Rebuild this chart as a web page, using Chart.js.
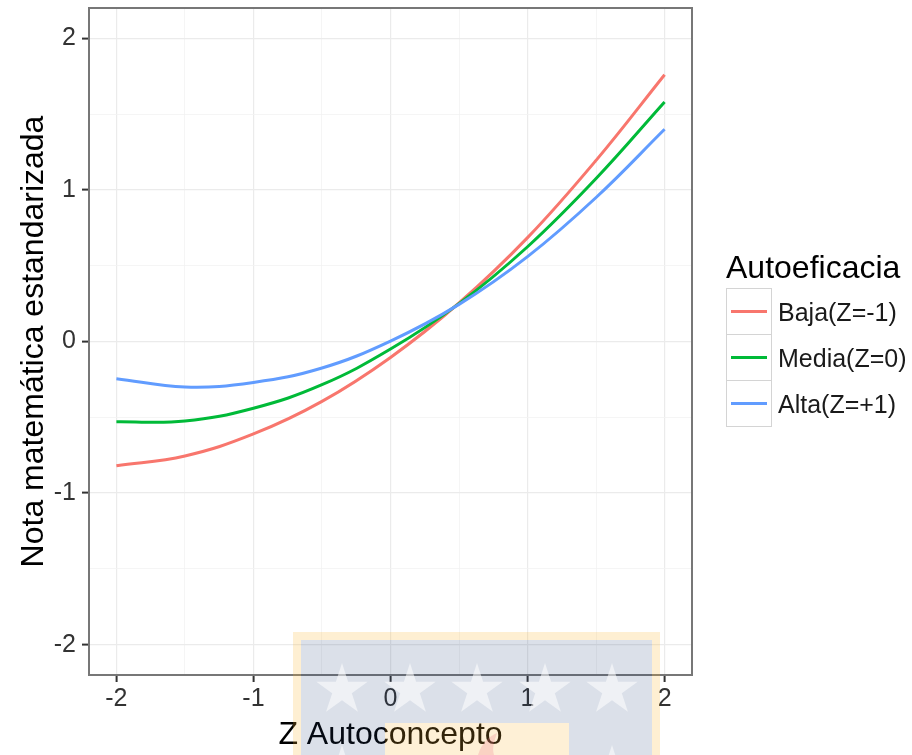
<!DOCTYPE html>
<html>
<head>
<meta charset="utf-8">
<script src="https://cdn.jsdelivr.net/npm/chart.js@4"></script>
<style>
  body { margin: 0; background: #fff; }
  #wrap { position: relative; width: 912px; height: 755px; overflow: hidden; font-family: "Liberation Sans", Arial, sans-serif; }
  #chart { position: absolute; left: 0; top: 0; }
  #legend { position: absolute; left: 726px; top: 246px; }
  #legend .title { font-size: 32px; color: #000; height: 43px; line-height: 43px; }
  #legend .row { display: flex; align-items: center; height: 46px; }
  #legend .key { width: 46px; height: 47px; border: 1px solid #d4d4d4; box-sizing: border-box; margin-top: -1px; position: relative; background: #fff; }
  #legend .key span { position: absolute; left: 4px; right: 4px; top: 21px; height: 3px; }
  #legend .lab { font-size: 25px; color: #1a1a1a; margin-left: 6px; }
  #mark { position: absolute; left: 0; top: 0; pointer-events: none; }
</style>
</head>
<body>
<div id="wrap">
  <canvas id="chart" width="912" height="755"></canvas>
  <div id="legend"></div>
  <svg id="mark" width="912" height="755"></svg>
</div>
<script>
// values
const xValues = [-2, -1.5, -1, -0.5, 0, 0.5, 1, 1.5, 2];
const baja  = [-0.82, -0.755, -0.61, -0.395, -0.105, 0.254, 0.685, 1.195, 1.76];
const media = [-0.53, -0.525, -0.44, -0.285, -0.05, 0.25, 0.625, 1.075, 1.58];
const alta  = [-0.245, -0.30, -0.27, -0.175, 0.003, 0.245, 0.56, 0.95, 1.40];

const seriesNames = ['Baja(Z=-1)', 'Media(Z=0)', 'Alta(Z=+1)'];
const seriesColors = ['#F8766D', '#00BA38', '#619CFF'];
const seriesValues = [baja, media, alta];

const xTicks = [-2, -1.5, -1, -0.5, 0, 0.5, 1, 1.5, 2];
const yTicks = [-2, -1.5, -1, -0.5, 0, 0.5, 1, 1.5, 2];

const legendTitle = 'Autoeficacia';
const xTitle = 'Z Autoconcepto';
const yTitle = 'Nota matemática estandarizada';

const FONT = '"Liberation Sans", Arial, sans-serif';

const isMajor = v => Math.abs(v - Math.round(v)) < 1e-9;

const gridOpts = {
    color: ctx => ctx.tick && isMajor(ctx.tick.value) ? '#ebebeb' : '#f3f3f3',
    lineWidth: ctx => ctx.tick && isMajor(ctx.tick.value) ? 1.2 : 0.8,
    tickColor: ctx => ctx.tick && isMajor(ctx.tick.value) ? '#333' : 'rgba(0,0,0,0)',
    tickLength: 7,
    tickWidth: 2,
};

const panelBorder = {
    id: 'panelBorder',
    afterDraw(chart) {
        const a = chart.chartArea;
        const c = chart.ctx;
        c.save();
        c.strokeStyle = '#777';
        c.lineWidth = 2;
        c.strokeRect(a.left, a.top, a.right - a.left, a.bottom - a.top);
        c.restore();
    }
};

const datasets = seriesNames.map((name, i) => ({
    label: name,
    data: xValues.map((x, j) => ({ x: x, y: seriesValues[i][j] })),
    borderColor: seriesColors[i],
    borderWidth: 3,
    pointRadius: 0,
    tension: 0.4,
    fill: false,
    order: seriesNames.length - i,
}));

new Chart(document.getElementById('chart'), {
    type: 'line',
    data: { datasets: datasets },
    plugins: [panelBorder],
    options: {
        responsive: false,
        animation: false,
        layout: { padding: { top: 8, right: 220, left: 0, bottom: 0 } },
        plugins: { legend: { display: false }, tooltip: { enabled: false } },
        scales: {
            x: {
                type: 'linear',
                min: -2.2,
                max: 2.2,
                afterBuildTicks: axis => { axis.ticks = xTicks.map(v => ({ value: v })); },
                afterFit: scale => {
                    scale.height = 80;
                    scale.paddingLeft = 0;
                    scale.paddingRight = 0;
                },
                grid: gridOpts,
                border: { display: false },
                ticks: {
                    autoSkip: false,
                    maxRotation: 0,
                    padding: 2,
                    color: '#333',
                    font: { family: FONT, size: 25 },
                    callback: v => isMajor(v) ? String(v) : '',
                },
                title: {
                    display: true,
                    text: xTitle,
                    color: '#000',
                    font: { family: FONT, size: 32 },
                    padding: { top: 0, bottom: 1 },
                },
            },
            y: {
                type: 'linear',
                min: -2.2,
                max: 2.2,
                afterBuildTicks: axis => { axis.ticks = yTicks.map(v => ({ value: v })); },
                afterFit: scale => {
                    scale.width = 89;
                    scale.paddingTop = 0;
                    scale.paddingBottom = 0;
                },
                grid: gridOpts,
                border: { display: false },
                ticks: {
                    autoSkip: false,
                    padding: 6,
                    color: '#333',
                    font: { family: FONT, size: 25 },
                    callback: v => isMajor(v) ? String(v) : '',
                },
                title: {
                    display: true,
                    text: yTitle,
                    color: '#000',
                    font: { family: FONT, size: 32 },
                    padding: { top: 15, bottom: 0 },
                },
            },
        },
    },
});

// legend
const legend = document.getElementById('legend');
let html = '<div class="title">' + legendTitle + '</div>';
seriesNames.forEach((name, i) => {
    html += '<div class="row"><div class="key"><span style="background:' + seriesColors[i] + '"></span></div>' +
        '<div class="lab">' + name + '</div></div>';
});
legend.innerHTML = html;

// faint logo watermark over the bottom of the picture
function starPath(cx, cy, R) {
    const r = R * 0.382;
    let d = '';
    for (let k = 0; k < 10; k++) {
        const ang = -Math.PI / 2 + k * Math.PI / 5;
        const rad = k % 2 === 0 ? R : r;
        d += (k === 0 ? 'M' : 'L') + (cx + rad * Math.cos(ang)).toFixed(1) + ',' + (cy + rad * Math.sin(ang)).toFixed(1);
    }
    return d + 'Z';
}
const svg = document.getElementById('mark');
let s = '';
s += '<rect x="297" y="636" width="359" height="130" fill="none" stroke="rgba(250,180,50,0.22)" stroke-width="8"/>';
// blue field with a hole for the inner orange panel
s += '<path fill-rule="evenodd" fill="rgba(30,60,120,0.16)" d="M301,640 H652 V760 H301 Z M385,723 V760 H569 V723 Z"/>';
[342, 410, 477, 545, 612].forEach(cx => {
    s += '<path d="' + starPath(cx, 690, 27) + '" fill="rgba(255,255,255,0.55)"/>';
});
[342, 612].forEach(cx => {
    s += '<path d="' + starPath(cx, 772, 27) + '" fill="rgba(255,255,255,0.55)"/>';
});
s += '<rect x="385" y="723" width="184" height="40" fill="rgba(250,180,50,0.2)"/>';
s += '<path d="M478,755 C482,742 490,736 497,733 C494,742 492,748 494,755 Z" fill="rgba(240,120,140,0.25)"/>';
svg.innerHTML = s;
</script>
</body>
</html>
